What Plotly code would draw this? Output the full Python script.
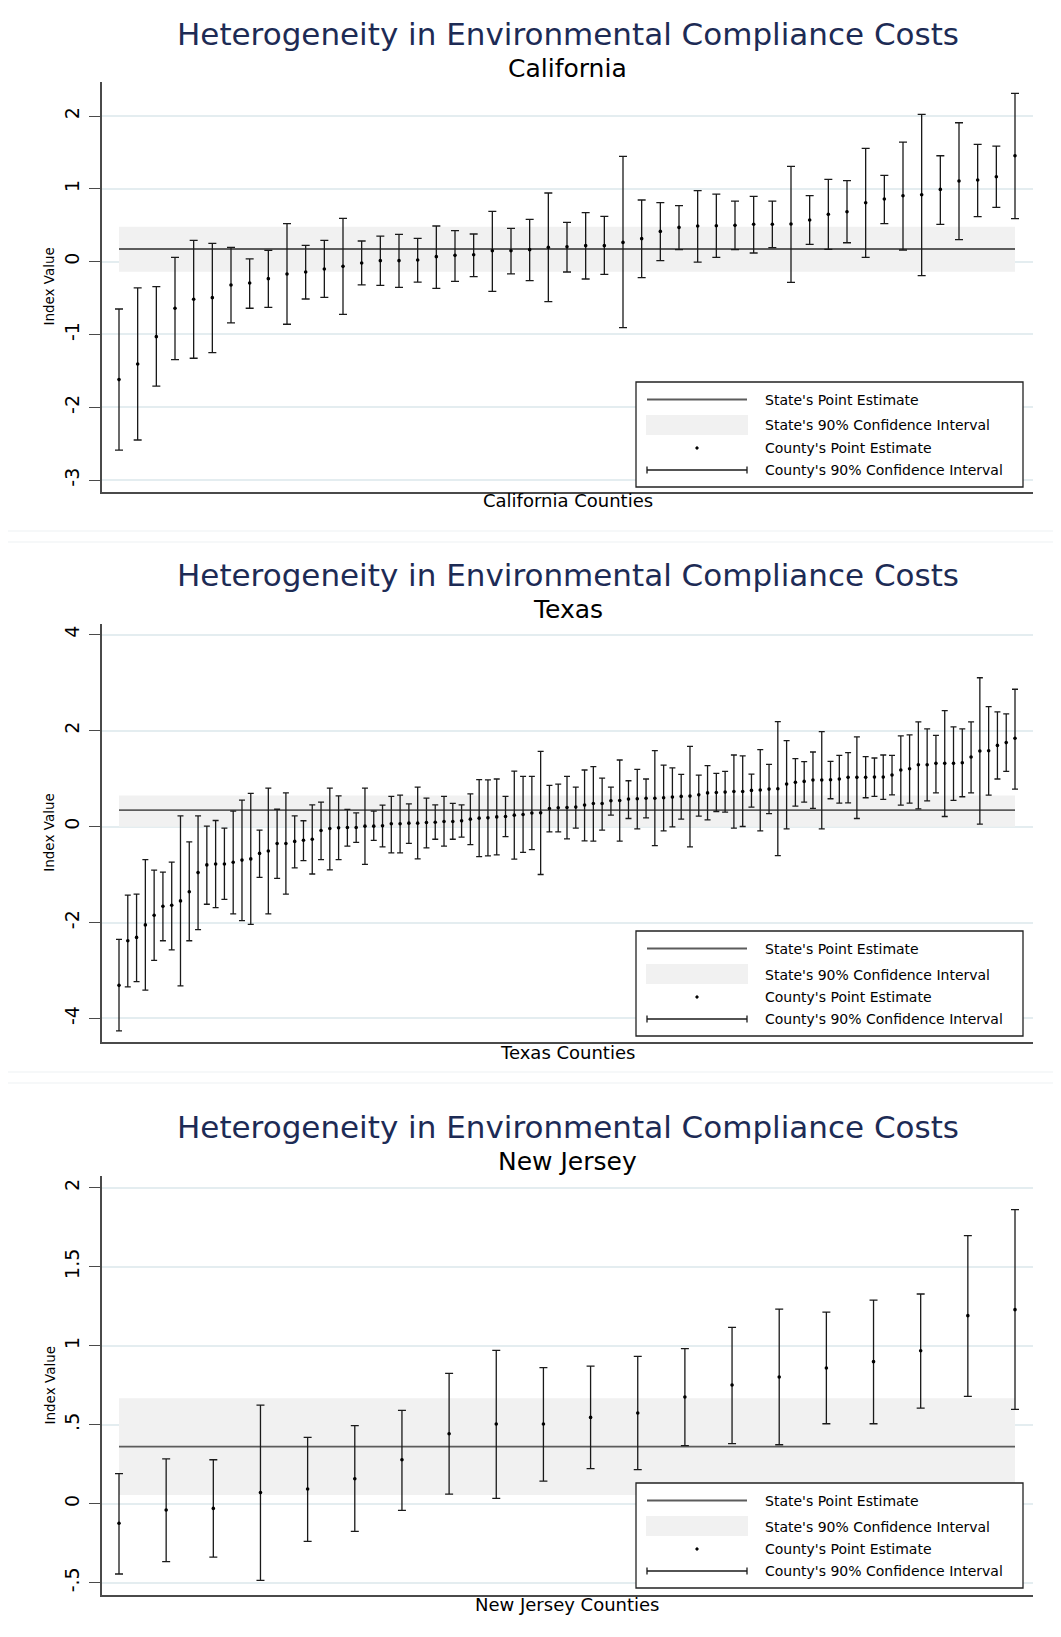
import plotly.graph_objects as go

# page body has an 8px margin; the figure is sized to fit inside it
PAGE_W, PAGE_H = 1061, 1637
OFF = 8
W, H = PAGE_W - 2 * OFF, PAGE_H - 2 * OFF

# ---------------- data ----------------
ca_est = [-1.62, -1.405, -1.03, -0.64, -0.517, -0.494, -0.32, -0.293, -0.233, -0.169,
          -0.142, -0.10, -0.064, -0.018, 0.014, 0.014, 0.023, 0.069, 0.087, 0.096,
          0.151, 0.151, 0.165, 0.197, 0.204, 0.22, 0.22, 0.265, 0.316, 0.416,
          0.471, 0.49, 0.494, 0.499, 0.513, 0.513, 0.517, 0.572, 0.65, 0.686,
          0.81, 0.86, 0.906, 0.92, 0.993, 1.108, 1.121, 1.167, 1.455]
ca_hi = [-0.65, -0.36, -0.343, 0.06, 0.293, 0.252, 0.197, 0.037, 0.156, 0.522,
         0.224, 0.293, 0.595, 0.284, 0.352, 0.375, 0.32, 0.49, 0.426, 0.38,
         0.69, 0.458, 0.58, 0.943, 0.54, 0.673, 0.622, 1.446, 0.847, 0.81,
         0.769, 0.975, 0.929, 0.833, 0.897, 0.833, 1.309, 0.906, 1.13, 1.112,
         1.556, 1.185, 1.643, 2.023, 1.455, 1.908, 1.611, 1.588, 2.311]
ca_lo = [-2.59, -2.45, -1.71, -1.345, -1.327, -1.25, -0.842, -0.64, -0.627, -0.86,
         -0.513, -0.49, -0.723, -0.32, -0.325, -0.352, -0.28, -0.366, -0.27, -0.206,
         -0.407, -0.169, -0.26, -0.549, -0.142, -0.238, -0.174, -0.906, -0.22, 0.014,
         0.165, -0.005, 0.059, 0.165, 0.119, 0.192, -0.284, 0.238, 0.169, 0.26,
         0.059, 0.522, 0.16, -0.192, 0.513, 0.302, 0.618, 0.746, 0.59]
ca_state = 0.174
ca_state_lo = -0.137
ca_state_hi = 0.48

tx_est = [-3.31, -2.38, -2.31, -2.05, -1.85, -1.66, -1.64, -1.55, -1.36, -0.96,
          -0.80, -0.78, -0.78, -0.745, -0.70, -0.675, -0.56, -0.51, -0.355, -0.355,
          -0.31, -0.285, -0.265, -0.084, -0.042, -0.028, -0.02, -0.02, 0.007, 0.007,
          0.014, 0.056, 0.056, 0.07, 0.07, 0.084, 0.09, 0.104, 0.104, 0.118,
          0.153, 0.174, 0.18, 0.20, 0.21, 0.237, 0.25, 0.28, 0.285, 0.376,
          0.39, 0.397, 0.404, 0.446, 0.48, 0.48, 0.536, 0.543, 0.571, 0.578,
          0.59, 0.59, 0.60, 0.613, 0.627, 0.634, 0.66, 0.70, 0.71, 0.717,
          0.73, 0.73, 0.752, 0.76, 0.78, 0.787, 0.884, 0.92, 0.94, 0.968,
          0.968, 0.975, 0.99, 1.024, 1.024, 1.024, 1.03, 1.03, 1.072, 1.177,
          1.205, 1.288, 1.288, 1.316, 1.316, 1.316, 1.33, 1.448, 1.574, 1.58,
          1.69, 1.748, 1.838]
tx_hi = [-2.35, -1.43, -1.41, -0.69, -0.91, -0.95, -0.74, 0.22, -0.32, 0.22,
         0.01, 0.125, -0.035, 0.32, 0.55, 0.69, -0.077, 0.80, 0.36, 0.70,
         0.22, 0.12, 0.45, 0.51, 0.80, 0.64, 0.355, 0.285, 0.80, 0.32,
         0.445, 0.63, 0.655, 0.47, 0.82, 0.59, 0.45, 0.627, 0.48, 0.45,
         0.68, 0.975, 0.97, 0.99, 0.627, 1.156, 1.045, 1.045, 1.567, 0.857,
         0.884, 1.045, 0.82, 1.177, 1.247, 1.01, 0.82, 1.386, 0.954, 1.19,
         0.99, 1.58, 1.28, 1.22, 1.086, 1.67, 1.07, 1.27, 1.107, 1.15,
         1.49, 1.47, 1.093, 1.60, 1.295, 2.187, 1.79, 1.414, 1.35, 1.553,
         1.978, 1.358, 1.483, 1.539, 1.866, 1.455, 1.428, 1.49, 1.483, 1.887,
         1.908, 2.18, 2.033, 1.90, 2.416, 2.075, 2.033, 2.18, 3.10, 2.50,
         2.39, 2.347, 2.86]
tx_lo = [-4.26, -3.34, -3.23, -3.41, -2.79, -2.38, -2.57, -3.32, -2.38, -2.15,
         -1.62, -1.69, -1.52, -1.82, -1.96, -2.04, -1.06, -1.82, -1.08, -1.41,
         -0.86, -0.71, -0.99, -0.69, -0.905, -0.69, -0.41, -0.33, -0.79, -0.29,
         -0.425, -0.55, -0.55, -0.35, -0.675, -0.445, -0.265, -0.41, -0.265, -0.22,
         -0.376, -0.627, -0.61, -0.59, -0.21, -0.68, -0.54, -0.48, -1.0, -0.11,
         -0.11, -0.258, -0.035, -0.30, -0.306, -0.077, 0.237, -0.306, 0.167, -0.05,
         0.18, -0.40, -0.09, -0.007, 0.153, -0.425, 0.216, 0.14, 0.313, 0.30,
         -0.035, 0.0, 0.404, -0.09, 0.27, -0.606, -0.05, 0.425, 0.508, 0.376,
         -0.05, 0.578, 0.487, 0.494, 0.167, 0.599, 0.627, 0.564, 0.66, 0.446,
         0.487, 0.369, 0.536, 0.70, 0.209, 0.543, 0.62, 0.70, 0.049, 0.655,
         0.99, 1.15, 0.78]
tx_state = 0.341
tx_state_lo = -0.005
tx_state_hi = 0.648

nj_est = [-0.124, -0.04, -0.03, 0.07, 0.093, 0.158, 0.278, 0.443, 0.504, 0.504,
          0.546, 0.574, 0.675, 0.751, 0.802, 0.859, 0.899, 0.968, 1.19, 1.228]
nj_hi = [0.19, 0.283, 0.278, 0.624, 0.42, 0.494, 0.59, 0.825, 0.97, 0.861,
         0.871, 0.932, 0.981, 1.116, 1.232, 1.213, 1.289, 1.327, 1.696, 1.861]
nj_lo = [-0.445, -0.367, -0.338, -0.485, -0.238, -0.175, -0.042, 0.061, 0.034, 0.143,
         0.222, 0.215, 0.367, 0.38, 0.373, 0.506, 0.506, 0.605, 0.679, 0.597]
nj_state = 0.361
nj_state_lo = 0.055
nj_state_hi = 0.667

ca_ticks = [-3, -2, -1, 0, 1, 2]
ca_ticktext = ["-3", "-2", "-1", "0", "1", "2"]
tx_ticks = [-4, -2, 0, 2, 4]
tx_ticktext = ["-4", "-2", "0", "2", "4"]
nj_ticks = [-0.5, 0, 0.5, 1, 1.5, 2]
nj_ticktext = ["-.5", "0", ".5", "1", "1.5", "2"]

title_text = "Heterogeneity in Environmental Compliance Costs"
legend_labels = ["State's Point Estimate", "State's 90% Confidence Interval",
                 "County's Point Estimate", "County's 90% Confidence Interval"]

# ---------------- layout helpers (page pixel -> paper) ----------------
def X(px):
    return (px - OFF) / W

def Y(py):
    return 1 - (py - OFF) / H

FONT = "DejaVu Sans"
NAVY = "#1d2b55"
GRID = "#e4edf0"
AXIS = "#4a4a4a"
BAND = "#f1f1f1"
SLINE = "#5c5c5c"
BAR = "#1a1a1a"

panels = [
    dict(state="California", est=ca_est, hi=ca_hi, lo=ca_lo,
         s=ca_state, slo=ca_state_lo, shi=ca_state_hi,
         yr=[-3.16, 2.475], tv=ca_ticks, tt=ca_ticktext,
         top=81.5, bot=491.7, ty=34.5, sy=68.5, xty=500, leg=382, cap=4),
    dict(state="Texas", est=tx_est, hi=tx_hi, lo=tx_lo,
         s=tx_state, slo=tx_state_lo, shi=tx_state_hi,
         yr=[-4.49, 4.23], tv=tx_ticks, tt=tx_ticktext,
         top=623.5, bot=1042, ty=574.5, sy=609.5, xty=1052, leg=931, cap=3),
    dict(state="New Jersey", est=nj_est, hi=nj_hi, lo=nj_lo,
         s=nj_state, slo=nj_state_lo, shi=nj_state_hi,
         yr=[-0.578, 2.074], tv=nj_ticks, tt=nj_ticktext,
         top=1176, bot=1595, ty=1127, sy=1161.5, xty=1604, leg=1483, cap=4),
]

AX_L, AX_R = 102, 1033
FIRST, LAST = 119, 1015

fig = go.Figure()
shapes = []
annotations = []
layout_axes = {}

for i, p in enumerate(panels, start=1):
    n = len(p["est"])
    xs = list(range(1, n + 1))
    pu = (LAST - FIRST) / (n - 1)
    xr = [1 - (FIRST - AX_L) / pu, n + (AX_R - LAST) / pu]
    xa = "x" if i == 1 else f"x{i}"
    ya = "y" if i == 1 else f"y{i}"

    # state CI band
    fig.add_trace(go.Scatter(
        x=[1, n, n, 1, 1], y=[p["slo"], p["slo"], p["shi"], p["shi"], p["slo"]],
        fill="toself", fillcolor=BAND, mode="lines", line=dict(width=0),
        hoverinfo="skip", showlegend=False, xaxis=xa, yaxis=ya))
    # state point estimate
    fig.add_trace(go.Scatter(
        x=[1, n], y=[p["s"], p["s"]], mode="lines",
        line=dict(color=SLINE, width=1.8), hoverinfo="skip",
        showlegend=False, xaxis=xa, yaxis=ya))
    # county estimates with CI
    fig.add_trace(go.Scatter(
        x=xs, y=p["est"], mode="markers",
        marker=dict(size=3.6, color="black"),
        error_y=dict(type="data", symmetric=False,
                     array=[h - e for h, e in zip(p["hi"], p["est"])],
                     arrayminus=[e - l for e, l in zip(p["est"], p["lo"])],
                     thickness=1.3, width=p["cap"], color=BAR),
        showlegend=False, xaxis=xa, yaxis=ya))

    xkey = "xaxis" if i == 1 else f"xaxis{i}"
    ykey = "yaxis" if i == 1 else f"yaxis{i}"
    layout_axes[xkey] = dict(
        domain=[X(AX_L), X(AX_R)], range=xr, anchor=ya,
        showline=True, linecolor=AXIS, linewidth=1.6, mirror=False,
        showgrid=False, zeroline=False, showticklabels=False, ticks="",
        fixedrange=True)
    layout_axes[ykey] = dict(
        domain=[Y(p["bot"]), Y(p["top"])], range=p["yr"], anchor=xa,
        showline=True, linecolor=AXIS, linewidth=1.6,
        showgrid=True, gridcolor=GRID, gridwidth=1.6, zeroline=False,
        ticks="outside", ticklen=11, tickwidth=1.3, tickcolor=AXIS,
        tickvals=p["tv"], ticktext=p["tt"], tickangle=-90,
        tickfont=dict(family=FONT, size=19, color="black"),
        ticklabelstandoff=3, fixedrange=True)

    cx = (AX_L + AX_R) / 2
    annotations += [
        dict(text=title_text, x=X(cx), y=Y(p["ty"]), xref="paper", yref="paper",
             showarrow=False, xanchor="center", yanchor="middle",
             font=dict(family=FONT, size=31, color=NAVY)),
        dict(text=p["state"], x=X(cx), y=Y(p["sy"]), xref="paper", yref="paper",
             showarrow=False, xanchor="center", yanchor="middle",
             font=dict(family=FONT, size=25, color="black")),
        dict(text=f"{p['state']} Counties", x=X(cx), y=Y(p["xty"]), xref="paper",
             yref="paper", showarrow=False, xanchor="center", yanchor="middle",
             font=dict(family=FONT, size=18, color="black")),
        dict(text="Index Value", x=X(49), y=Y((p["top"] + p["bot"]) / 2),
             xref="paper", yref="paper", showarrow=False, textangle=-90,
             xanchor="center", yanchor="middle",
             font=dict(family=FONT, size=13.5, color="black")),
    ]

    # ----- legend box (drawn manually) -----
    t = p["leg"]
    shapes.append(dict(type="rect", xref="paper", yref="paper",
                       x0=X(636), x1=X(1023), y0=Y(t + 105), y1=Y(t),
                       line=dict(color="#222222", width=1.3), fillcolor="white",
                       layer="above"))
    offs = [17.5, 43.5, 66, 88]
    shapes.append(dict(type="line", xref="paper", yref="paper",
                       x0=X(647), x1=X(747), y0=Y(t + offs[0]), y1=Y(t + offs[0]),
                       line=dict(color=SLINE, width=1.8), layer="above"))
    shapes.append(dict(type="rect", xref="paper", yref="paper",
                       x0=X(646), x1=X(748), y0=Y(t + 53), y1=Y(t + 33),
                       line=dict(width=0), fillcolor=BAND, layer="above"))
    shapes.append(dict(type="circle", xref="paper", yref="paper",
                       x0=X(695.8), x1=X(698.2), y0=Y(t + offs[2] + 1.2),
                       y1=Y(t + offs[2] - 1.2),
                       line=dict(color="black", width=1), fillcolor="black",
                       layer="above"))
    shapes.append(dict(type="line", xref="paper", yref="paper",
                       x0=X(647), x1=X(747), y0=Y(t + offs[3]), y1=Y(t + offs[3]),
                       line=dict(color=BAR, width=1.3), layer="above"))
    for cxp in (647, 747):
        shapes.append(dict(type="line", xref="paper", yref="paper",
                           x0=X(cxp), x1=X(cxp), y0=Y(t + offs[3] + 3.5),
                           y1=Y(t + offs[3] - 3.5),
                           line=dict(color=BAR, width=1.3), layer="above"))
    for lab, o in zip(legend_labels, offs):
        annotations.append(dict(text=lab, x=X(763), y=Y(t + o), xref="paper",
                                yref="paper", showarrow=False, xanchor="left",
                                yanchor="middle",
                                font=dict(family=FONT, size=14, color="black")))

# faint panel separators
for py in (531, 542, 1072, 1083):
    shapes.append(dict(type="line", xref="paper", yref="paper",
                       x0=0, x1=1, y0=Y(py), y1=Y(py),
                       line=dict(color="#edf2f4", width=1.2), layer="below"))

fig.update_layout(
    width=W, height=H,
    margin=dict(l=0, r=0, t=0, b=0, autoexpand=False),
    paper_bgcolor="white", plot_bgcolor="white",
    showlegend=False,
    shapes=shapes, annotations=annotations,
    **layout_axes,
)

fig.write_html("out.html")
